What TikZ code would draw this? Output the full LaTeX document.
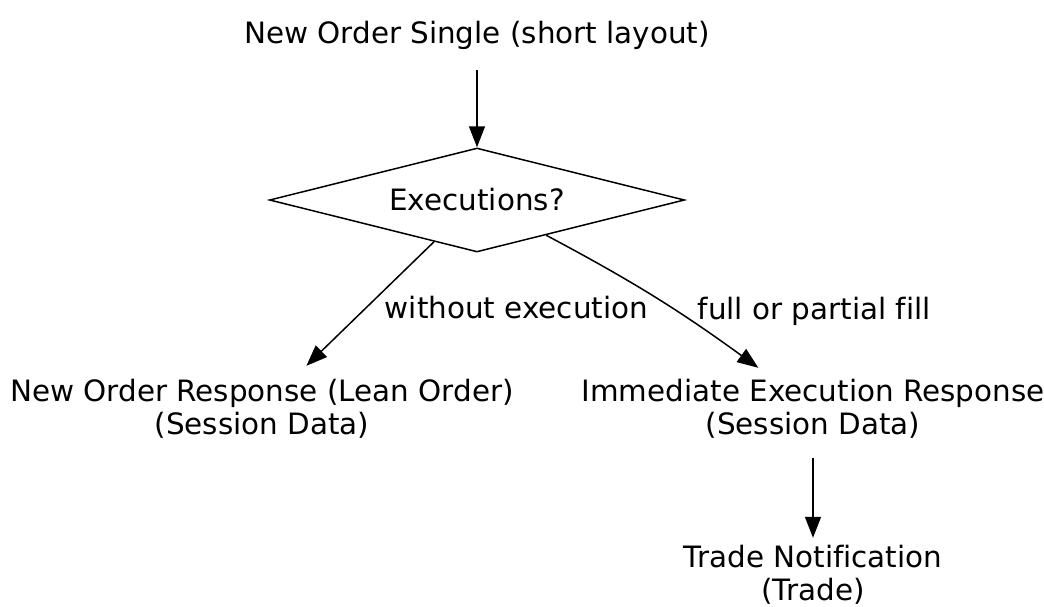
\documentclass[tikz,border=0pt]{standalone}
\usepackage{fontspec}
\setmainfont[Ligatures=NoCommon]{DejaVu Sans}
\usetikzlibrary{shapes.geometric,arrows.meta}
\begin{document}
\begin{tikzpicture}[x=1pt,y=-1pt,
    txt/.style={align=center,inner sep=0pt,font=\fontsize{29.4}{33}\selectfont},
    decision/.style={diamond,draw,line width=1.5pt,aspect=4,inner sep=0pt,
        minimum width=415pt,minimum height=104pt,font=\fontsize{29.4}{33}\selectfont},
    flow/.style={line width=1.5pt,-{Triangle[length=21pt,width=16pt]}},
    lbl/.style={inner sep=0pt,font=\fontsize{29.4}{33}\selectfont}]
\useasboundingbox (0,0) rectangle (1044,606);

\node[txt,minimum height=70pt] (single) at (477,35) {New Order Single (short layout)};
\node[decision] (exec) at (477,200) {Executions?};
\node[txt,minimum height=86pt] (lean) at (262,409) {New Order Response (Lean Order)\\(Session Data)};
\node[txt,minimum height=82pt] (immed) at (813,409) {Immediate Execution Response\\(Session Data)};
\node[txt,minimum height=74pt] (trade) at (813,575) {Trade Notification\\(Trade)};

\draw[flow] (single) -- (exec);
\draw[flow] (exec) -- (lean)
    node[lbl,midway,anchor=west,xshift=14pt,yshift=-4pt] {without execution};
\draw[flow] (exec.-27.5) to[bend left=4]
    node[lbl,midway,anchor=west,xshift=42pt,yshift=-14pt] {full or partial fill} (immed.143);
\draw[flow,shorten <=8pt] (immed) -- (trade);
\end{tikzpicture}
\end{document}
